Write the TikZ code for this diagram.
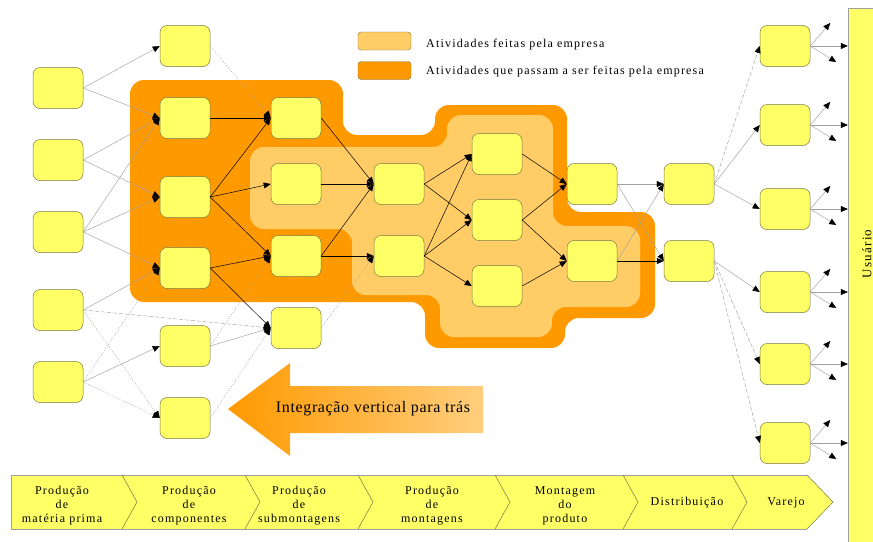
\documentclass[tikz,border=0pt]{standalone}
\usepackage{fontspec}
\setmainfont{Liberation Serif}
\newfontfamily\spaced[LetterSpace=10]{Liberation Serif}
\newfontfamily\spacedb[LetterSpace=4]{Liberation Serif}
\usetikzlibrary{arrows.meta,calc}
\definecolor{dorange}{RGB}{255,153,0}
\definecolor{lorange}{RGB}{255,204,102}
\definecolor{arrowend}{RGB}{255,206,125}
\definecolor{nyellow}{RGB}{255,255,102}
\definecolor{nborder}{RGB}{120,120,70}
\definecolor{gline}{RGB}{160,160,160}
\begin{document}
\begin{tikzpicture}[x=1pt,y=-1pt,
  box/.style={draw=nborder,fill=nyellow,rounded corners=7pt,minimum width=50pt,minimum height=41pt,inner sep=0pt,line width=0.5pt},
  kc/.style={draw=black,line width=0.5pt,-{Triangle[length=7pt,width=6pt]}},
  gc/.style={draw=gline,line width=0.45pt,-{Triangle[length=7pt,width=6pt,color=black]}},
  gdash/.style={gc,dash pattern=on 4pt off 2pt},
  gdot/.style={gc,dash pattern=on 1pt off 1.5pt},
  lbl/.style={font=\spaced\fontsize{12}{14}\selectfont,align=center,inner sep=0pt},
  legbox/.style={draw=nborder,rounded corners=3pt,minimum width=53pt,minimum height=18pt,inner sep=0pt,line width=0.4pt}
]
\useasboundingbox (0,0) rectangle (873,541);
\fill[white] (0,0) rectangle (873,541);

% orange regions
\fill[dorange,rounded corners=14pt] (130,80) -- (343,80) -- (343,135) -- (435,135) -- (435,105) -- (567,105) -- (567,212) -- (655,212) -- (655,318) -- (565,318) -- (565,348) -- (425,348) -- (425,302) -- (130,302) -- cycle;
\fill[lorange,rounded corners=14pt] (250,147) -- (447,147) -- (447,115) -- (553,115) -- (553,226) -- (640,226) -- (640,307) -- (552,307) -- (552,337) -- (440,337) -- (440,295) -- (352,295) -- (352,229) -- (250,229) -- cycle;

% legend
\node[legbox,fill=lorange] (L1) at (384.5,41) {};
\node[legbox,fill=dorange] (L2) at (384.5,70.5) {};
\node[lbl,anchor=west] (T1) at (426,45) {Atividades feitas pela empresa};
\node[lbl,anchor=west] (T2) at (426,72) {Atividades que passam a ser feitas pela empresa};

% big arrow
\shade[left color=dorange,right color=arrowend] (228,409) -- (290,363) -- (290,386) -- (483,386) -- (483,433) -- (290,433) -- (290,456) -- cycle;
\node[font=\spacedb\fontsize{16}{18}\selectfont,inner sep=0pt] (IV) at (373,409) {Integração vertical para trás};

% user bar
\node[draw=gline,fill=nyellow,minimum width=36pt,minimum height=540pt,inner sep=0pt,line width=0.4pt] (U) at (866,278) {};
\node[font=\spaced\fontsize{13}{15}\selectfont,rotate=90,inner sep=0pt] (UT) at (867,254) {Usuário};

% nodes
\foreach \n/\x/\y in {A1/58/88,A2/58/160,A3/58/232,A4/58/310,A5/58/382,
  B1/185/46,B2/185/118,B3/185/197,B4/185/268,B5/185/346,B6/185/418,
  C1/296/118,C2/296/184,C3/296/256,C4/296/328,
  D1/399/184,D2/399/256,
  E1/497/154,E2/497/220,E3/497/286,
  F1/592/184,F2/592/261,
  G1/689/184,G2/689/261,
  H1/785/46,H2/785/125,H3/785/209,H4/785/292,H5/785/364,H6/785/443}
  \node[box] (\n) at (\x,\y) {};

% connectors A -> B/C
\draw[gc] (A1.east) -- (B1.west);
\draw[gc] (A1.east) -- (B2.west);
\draw[gc] (A2.east) -- (B2.west);
\draw[gc] (A2.east) -- (B3.west);
\draw[gc] (A3.east) -- (B2.west);
\draw[gc] (A3.east) -- (B3.west);
\draw[gc] (A3.east) -- (B4.west);
\draw[gc] (A4.east) -- (B4.west);
\draw[gdash] (A4.east) -- (C4.west);
\draw[gdot] (A4.east) -- (B6.west);
\draw[gdot] (A5.east) -- (B4.west);
\draw[gc] (A5.east) -- (B5.west);
\draw[gdot] (A5.east) -- (B6.west);

% B -> C
\draw[gdot] (B1.east) -- (C1.west);
\draw[kc] (B2.east) -- (C1.west);
\draw[kc] (B3.east) -- (C1.west);
\draw[kc] (B3.east) -- (C2.west);
\draw[kc] (B3.east) -- (C3.west);
\draw[kc] (B4.east) -- (C3.west);
\draw[kc] (B4.east) -- (C4.west);
\draw[gdot] (B5.east) -- (C3.west);
\draw[gc] (B5.east) -- (C4.west);
\draw[gdot] (B6.east) -- (C4.west);

% C -> D
\draw[kc] (C1.east) -- (D1.west);
\draw[kc] (C2.east) -- (D1.west);
\draw[kc] (C3.east) -- (D1.west);
\draw[kc] (C3.east) -- (D2.west);
\draw[gdot] (C4.east) -- (D2.west);

% D -> E
\draw[kc] (D1.east) -- (E1.west);
\draw[kc] (D1.east) -- (E2.west);
\draw[kc] (D2.east) -- (E1.west);
\draw[kc] (D2.east) -- (E2.west);
\draw[kc] (D2.east) -- (E3.west);

% E -> F
\draw[kc] (E1.east) -- (F1.west);
\draw[kc] (E2.east) -- (F1.west);
\draw[kc] (E2.east) -- (F2.west);
\draw[kc] (E3.east) -- (F2.west);

% F -> G
\draw[gc] (F1.east) -- (G1.west);
\draw[gc] (F1.east) -- (G2.west);
\draw[gc] (F2.east) -- (G1.west);
\draw[kc] (F2.east) -- (G2.west);

% G -> H
\draw[gdash] (G1.east) -- (H1.west);
\draw[gc] (G1.east) -- (H2.west);
\draw[gc] (G1.east) -- (H3.west);
\draw[gc] (G2.east) -- (H4.west);
\draw[gdash] (G2.east) -- (H5.west);
\draw[gdash] (G2.east) -- (H6.west);

% H -> outward
\foreach \h in {H1,H2,H3,H4,H5,H6}{
  \coordinate (\h u) at ($(\h.east)+(20,-23)$);
  \coordinate (\h d) at ($(\h.east)+(26,16)$);
  \draw[gc] (\h.east) -- (\h u);
  \draw[gc] (\h.east) -- (\h.east -| U.west);
  \draw[gc] (\h.east) -- (\h d);
}

% chevron strip
\fill[nyellow] (11,475) -- (807,475) -- (833,502) -- (807,529) -- (11,529) -- cycle;
\draw[gline,line width=0.5pt] (11,475) -- (807,475);
\draw[gline,line width=0.5pt] (11,529) -- (807,529);
\draw[nborder,line width=0.5pt] (807,475) -- (833,502) -- (807,529);
\draw[gline,line width=0.5pt] (11,475) -- (11,529);
\foreach \xb in {122,245,358,495,623,732}
  \draw[nborder,line width=0.5pt] (\xb,475) -- (\xb+15,502) -- (\xb,529);

\node[lbl] (S1) at (62,506) {Produção\\de\\matéria prima};
\node[lbl] (S2) at (189,506) {Produção\\de\\componentes};
\node[lbl] (S3) at (299,506) {Produção\\de\\submontagens};
\node[lbl] (S4) at (432,506) {Produção\\de\\montagens};
\node[lbl] (S5) at (565,506) {Montagem\\do\\produto};
\node[lbl] (S6) at (687,503) {Distribuição};
\node[lbl] (S7) at (786,503) {Varejo};
\end{tikzpicture}
\end{document}
